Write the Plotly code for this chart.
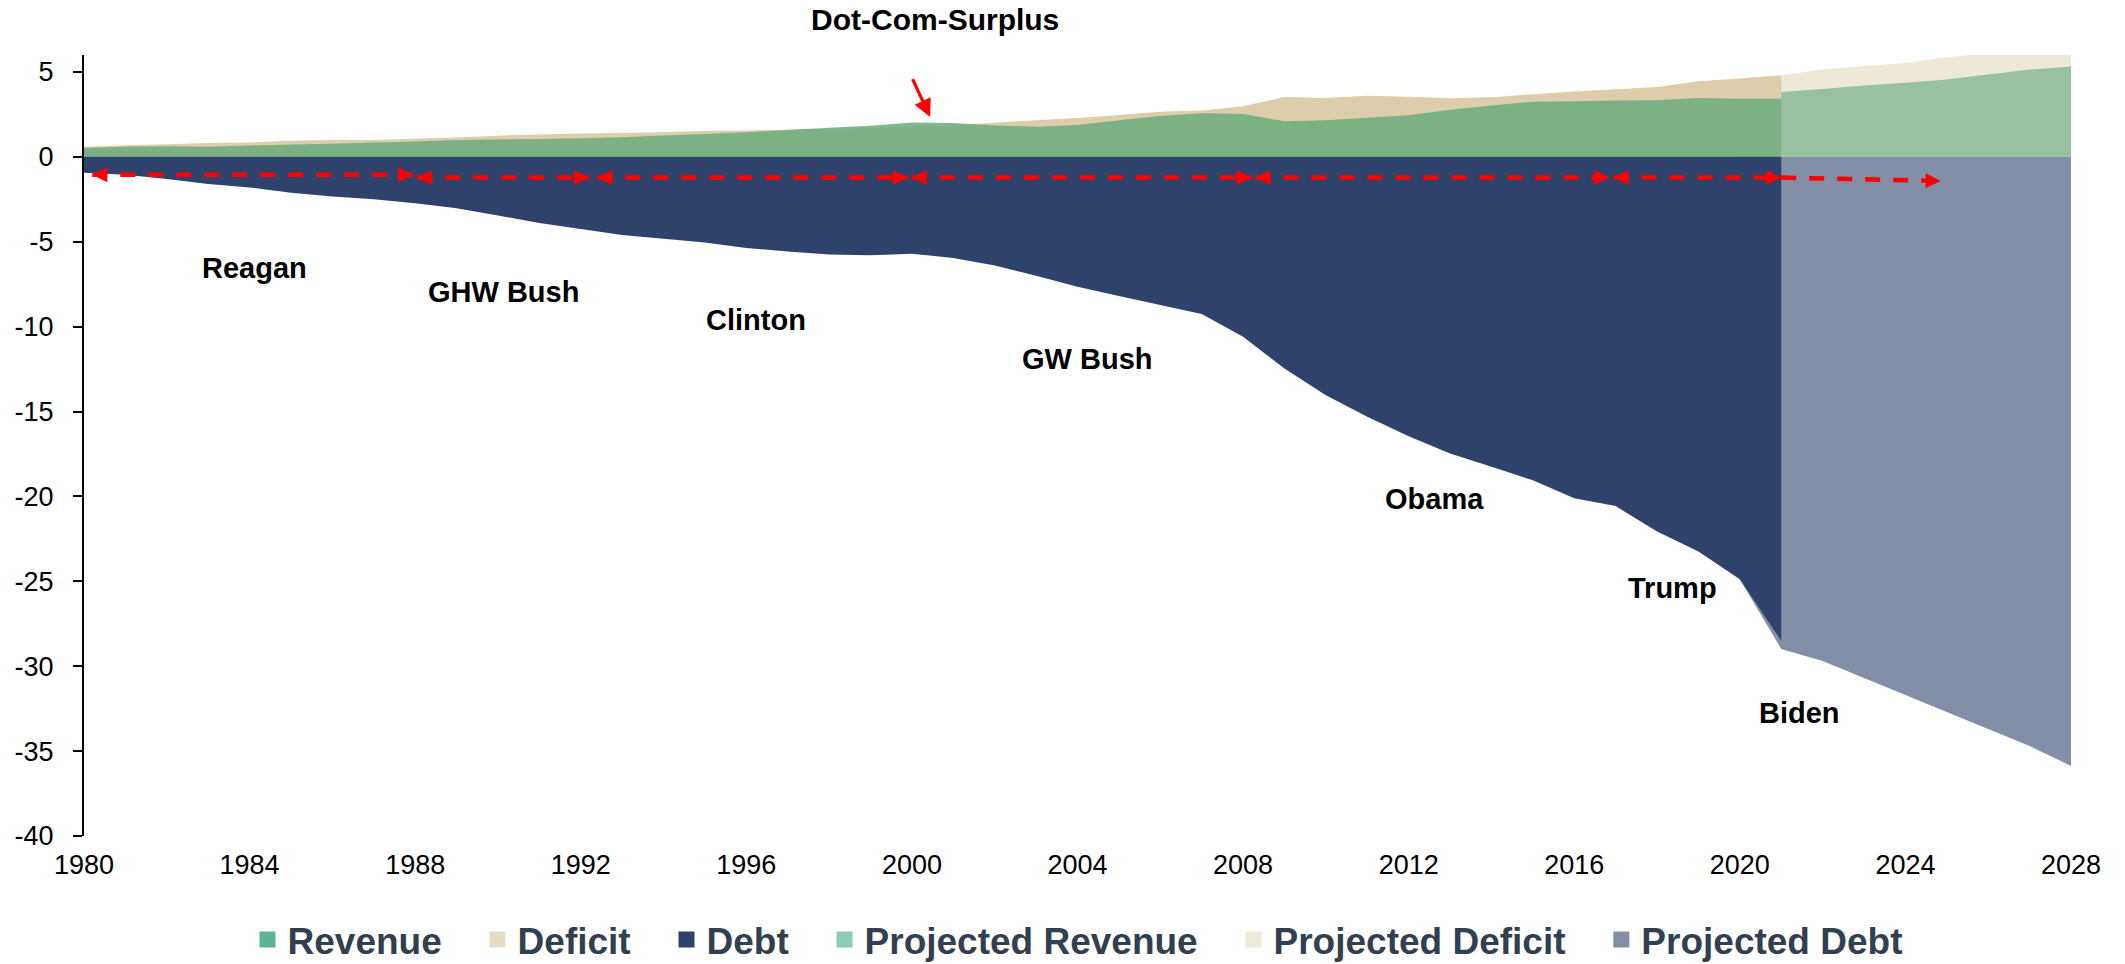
import plotly.graph_objects as go

# ---- data (trillions of USD) ----
years = list(range(1980, 2022))
revenue = [0.52, 0.60, 0.62, 0.60, 0.67, 0.73, 0.77, 0.85, 0.91, 0.99,
           1.03, 1.05, 1.09, 1.15, 1.26, 1.35, 1.45, 1.58, 1.72, 1.83,
           2.03, 1.99, 1.85, 1.78, 1.88, 2.15, 2.41, 2.57, 2.52, 2.10,
           2.16, 2.30, 2.45, 2.78, 3.02, 3.25, 3.27, 3.32, 3.33, 3.46,
           3.42, 3.42]
outlays = [0.59, 0.68, 0.75, 0.81, 0.85, 0.95, 0.99, 1.00, 1.06, 1.14,
           1.25, 1.32, 1.38, 1.41, 1.46, 1.52, 1.56, 1.60, 1.65, 1.70,
           1.79, 1.86, 2.01, 2.16, 2.29, 2.47, 2.66, 2.73, 2.98, 3.52,
           3.46, 3.60, 3.54, 3.45, 3.51, 3.69, 3.85, 3.98, 4.11, 4.45,
           4.62, 4.80]
debt = [-0.93, -1.05, -1.30, -1.60, -1.80, -2.12, -2.33, -2.50, -2.73, -3.02,
        -3.45, -3.90, -4.25, -4.60, -4.82, -5.05, -5.37, -5.57, -5.75, -5.80,
        -5.70, -5.96, -6.40, -7.00, -7.65, -8.20, -8.72, -9.26, -10.60, -12.47,
        -14.04, -15.30, -16.46, -17.47, -18.25, -19.05, -20.10, -20.57, -22.07, -23.25,
        -24.88, -28.50]

proj_years = list(range(2020, 2029))
proj_revenue = [3.45, 3.82, 4.00, 4.20, 4.37, 4.55, 4.85, 5.14, 5.33]
proj_outlays = [4.62, 4.80, 5.15, 5.35, 5.53, 5.87, 6.10, 6.30, 6.50]
proj_debt = [-24.88, -28.98, -29.70, -30.70, -31.70, -32.70, -33.70, -34.70, -35.87]

x_ticks = list(range(1980, 2029, 4))
y_ticks = list(range(-40, 6, 5))
y_tick_text = [str(v) for v in y_ticks]  # plain hyphen minus signs

# presidencies: label, label position, and the span of the red term arrow
presidents = ["Reagan", "GHW Bush", "Clinton", "GW Bush", "Obama", "Trump", "Biden"]
label_x = [1984.13, 1990.14, 1996.23, 2004.23, 2012.63, 2018.38, 2021.43]
label_y = [-6.53, -7.93, -9.59, -11.89, -20.14, -25.39, -32.75]
term_x0 = [1980.2, 1988.05, 1992.4, 2000.0, 2008.3, 2016.95, 2021.0]
term_x1 = [1987.95, 1992.2, 1999.9, 2008.2, 2016.85, 2021.0, 2024.85]
term_y0 = [-1.05, -1.22, -1.22, -1.22, -1.22, -1.22, -1.22]
term_y1 = [-1.05, -1.22, -1.22, -1.22, -1.22, -1.22, -1.42]
head_left = [True, True, True, True, True, True, False]

FONT = "Liberation Sans, Arial, sans-serif"
C_DEF, C_DEBT = "#DDCDAA", "#2F426B"
C_REV = "rgba(107,172,128,0.85)"
C_PDEF, C_PREV, C_PDEBT = "#EEE8D8", "#97C1A0", "#838EA7"
L_REV, L_DEF, L_DEBT = "#5BB595", "#E6DCC5", "#2E4169"
L_PREV, L_PDEF, L_PDEBT = "#8ECDB5", "#EFE9DA", "#838EA6"

fig = go.Figure()

def area(x, y, color):
    fig.add_trace(go.Scatter(x=x, y=y, fill="tozeroy", mode="none",
                             fillcolor=color, showlegend=False, hoverinfo="x+y"))

# projected series sit underneath the historical ones
area(proj_years, proj_outlays, C_PDEF)
area(proj_years, proj_revenue, C_PREV)
area(proj_years, proj_debt, C_PDEBT)
area(years, outlays, C_DEF)
area(years, revenue, C_REV)
area(years, debt, C_DEBT)

# legend swatches
legend_items = [("Revenue", L_REV), ("Deficit", L_DEF), ("Debt", L_DEBT),
                ("Projected Revenue", L_PREV), ("Projected Deficit", L_PDEF),
                ("Projected Debt", L_PDEBT)]
for i, (name, col) in enumerate(legend_items):
    pad = "\u00a0\u00a0\u00a0" if i < len(legend_items) - 1 else ""
    fig.add_trace(go.Scatter(x=[None], y=[None], mode="markers", name=name + pad,
                             marker=dict(symbol="square", size=18, color=col),
                             showlegend=True, hoverinfo="skip"))

# dashed red term lines
for x0, x1, y0, y1 in zip(term_x0, term_x1, term_y0, term_y1):
    fig.add_trace(go.Scatter(x=[x0, x1], y=[y0, y1], mode="lines",
                             line=dict(color="#FF0000", width=4.5, dash="15px,13px"),
                             showlegend=False, hoverinfo="skip"))

annotations = []
HEAD = dict(showarrow=True, arrowhead=2, arrowsize=1.5, arrowwidth=2,
            arrowcolor="#FF0000", text="", xref="x", yref="y", axref="x", ayref="y",
            standoff=0, startstandoff=0)
for x0, x1, y0, y1, hl in zip(term_x0, term_x1, term_y0, term_y1, head_left):
    slope = (y1 - y0) / (x1 - x0)
    annotations.append(dict(HEAD, x=x1, y=y1, ax=x1 - 0.35, ay=y1 - 0.35 * slope))
    if hl:
        annotations.append(dict(HEAD, x=x0, y=y0, ax=x0 + 0.35, ay=y0 + 0.35 * slope))

for name, lx, ly in zip(presidents, label_x, label_y):
    annotations.append(dict(text=name, x=lx, y=ly, xref="x", yref="y", showarrow=False,
                            font=dict(family=FONT, size=29, color="black", weight="bold"),
                            xanchor="center", yanchor="middle"))

annotations.append(dict(text="Dot-Com-Surplus", x=2000.55, y=1.045, xref="x", yref="paper",
                        showarrow=False, xanchor="center", yanchor="middle",
                        font=dict(family=FONT, size=30, color="black", weight="bold")))
annotations.append(dict(x=2000.44, y=2.35, ax=2000.0, ay=4.67, xref="x", yref="y",
                        axref="x", ayref="y", text="", showarrow=True, arrowhead=2,
                        arrowsize=1.1, arrowwidth=3.2, arrowcolor="#FF0000"))

fig.update_layout(
    width=2125, height=964,
    margin=dict(l=84, r=54, t=55, b=128, autoexpand=False),
    paper_bgcolor="white", plot_bgcolor="white",
    font=dict(family=FONT, color="black"),
    annotations=annotations,
    showlegend=True,
    legend=dict(orientation="h", x=0.5, xanchor="center", y=-0.133, yanchor="middle",
                font=dict(family=FONT, size=37, color="#323F4F", weight="bold"),
                bgcolor="rgba(0,0,0,0)", itemclick=False, itemdoubleclick=False),
    xaxis=dict(range=[1980, 2028], tickvals=x_ticks, ticktext=[str(v) for v in x_ticks],
               showline=False, showgrid=False, zeroline=False, ticks="",
               tickfont=dict(family=FONT, size=27, color="black"),
               ticklabelstandoff=10),
    yaxis=dict(range=[-40, 6], tickvals=y_ticks, ticktext=y_tick_text,
               showline=True, linecolor="black",
               linewidth=2, ticks="outside", ticklen=9, tickwidth=2, tickcolor="black",
               showgrid=False, zeroline=False,
               tickfont=dict(family=FONT, size=27, color="black"),
               ticklabelstandoff=14),
)

fig.write_html("out.html")
